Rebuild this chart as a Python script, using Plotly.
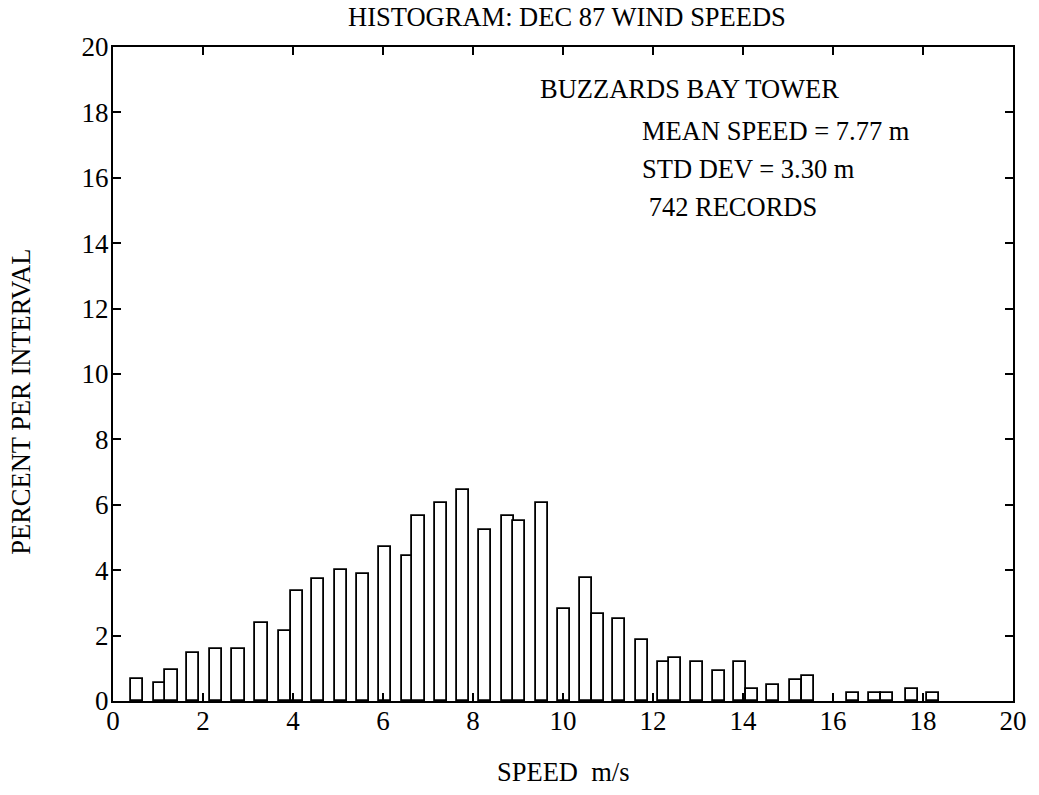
import plotly.graph_objects as go

# bar centres (m/s) and percent of records per interval
speed = [0.53, 1.05, 1.30, 1.78, 2.29, 2.79, 3.30, 3.82, 4.08, 4.56,
         5.06, 5.55, 6.04, 6.55, 6.79, 7.29, 7.78, 8.27, 8.77, 9.03,
         9.53, 10.02, 10.52, 10.78, 11.25, 11.75, 12.24, 12.48, 12.98, 13.46,
         13.93, 14.20, 14.67, 15.18, 15.44, 16.44, 16.94, 17.20, 17.75, 18.23]
percent = [0.67, 0.54, 0.94, 1.47, 1.60, 1.60, 2.40, 2.13, 3.35, 3.74,
           4.00, 3.88, 4.70, 4.42, 5.66, 6.05, 6.45, 5.23, 5.66, 5.50,
           6.04, 2.81, 3.75, 2.66, 2.52, 1.87, 1.20, 1.33, 1.18, 0.92,
           1.19, 0.37, 0.50, 0.64, 0.77, 0.24, 0.24, 0.24, 0.37, 0.24]

tick_vals = [0, 2, 4, 6, 8, 10, 12, 14, 16, 18, 20]
stats_lines = ["MEAN SPEED = 7.77 m", "STD DEV = 3.30 m", " 742 RECORDS"]

serif = "Liberation Serif, Times New Roman, serif"
txt = dict(size=26.5, family=serif, color="black")

fig = go.Figure()
fig.add_trace(go.Bar(
    x=speed, y=percent, width=0.27,
    marker=dict(color="white", line=dict(color="black", width=1.8)),
    showlegend=False,
))

axis_common = dict(
    range=[0, 20], tickvals=tick_vals, ticks="inside", ticklen=8, tickwidth=1.5,
    tickcolor="black", showline=True, linecolor="black", linewidth=2,
    mirror="ticks", showgrid=False, zeroline=False,
    tickfont=dict(family=serif, size=27, color="black"),
)

fig.update_layout(
    width=1039, height=795,
    margin=dict(l=113, r=18, t=47, b=94),
    paper_bgcolor="white", plot_bgcolor="white",
    font=dict(family=serif, color="black"),
    bargap=0,
    title=dict(text="HISTOGRAM: DEC 87 WIND SPEEDS", x=0.5457, xanchor="center",
               y=0.9786, yanchor="middle", font=txt),
    xaxis=dict(axis_common, ticklabelstandoff=-5),
    yaxis=dict(axis_common, ticklabelstandoff=-3),
)

fig.add_annotation(text="BUZZARDS BAY TOWER", xref="paper", yref="paper",
                   x=0.4725, y=0.9357, xanchor="left", yanchor="middle",
                   showarrow=False, font=txt)
for i, line in enumerate(stats_lines):
    fig.add_annotation(text=line, xref="paper", yref="paper",
                       x=0.5859, y=0.8714 - i * 0.0581, xanchor="left", yanchor="middle",
                       showarrow=False, font=txt)

fig.add_annotation(text="SPEED  m/s", xref="paper", yref="paper",
                   x=0.5, y=-0.109, xanchor="center", yanchor="middle",
                   showarrow=False, font=txt)
fig.add_annotation(text="PERCENT PER INTERVAL", xref="paper", yref="paper",
                   x=-0.1019, y=0.458, xanchor="center", yanchor="middle",
                   textangle=-90, showarrow=False, font=txt)

# drop the default 8px page margin so the figure sits at the window's corner
fig.write_html("out.html", config={"displayModeBar": False},
               post_script="document.body.style.margin='0px';")
